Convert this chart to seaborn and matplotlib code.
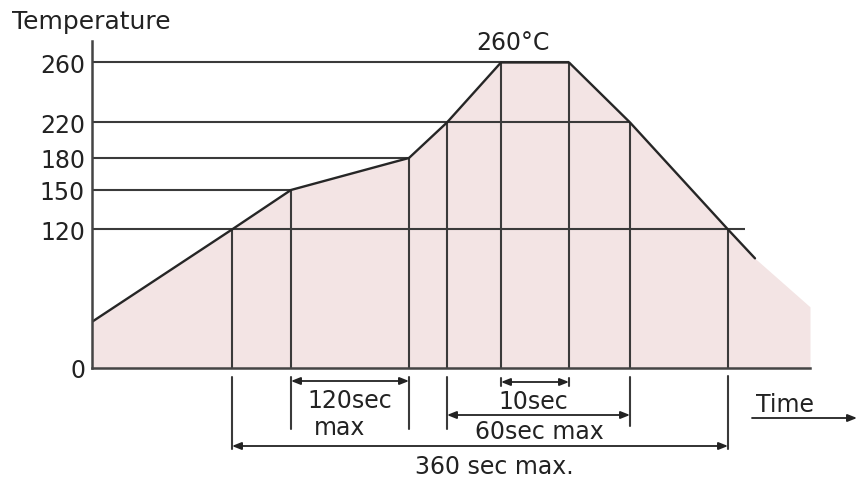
import numpy as np
import pandas as pd
import matplotlib
matplotlib.use("Agg")
import matplotlib.pyplot as plt
import matplotlib.transforms as mtransforms
import seaborn as sns

# ---------------- data (schematic reflow profile) ----------------
times = [0, 140, 199, 317, 355, 409, 477, 538, 636, 663]          # time (schematic units)
temps = [40, 120, 150, 180, 220, 260, 260, 220, 120, 95]           # temperature (°C)
fill_tail_time = [718]
fill_tail_temp = [53]

tick_values = [0, 120, 150, 180, 220, 260]
tick_labels = ["0", "120", "150", "180", "220", "260"]

hline_levels = [260, 220, 180, 150, 120]
hline_ends = [477, 538, 317, 199, 653]

marker_times = [140, 199, 317, 355, 409, 477, 538, 636]
marker_temps = [120, 150, 180, 220, 260, 260, 220, 120]

span_120 = (199, 317)
span_10 = (409, 477)
span_60 = (355, 538)
span_360 = (140, 636)

# schematic (non-linear) temperature axis anchors
axis_temp_anchor = [-100, 0, 120, 150, 180, 220, 260, 400]
axis_pos_anchor = [-115, 0, 138.5, 178, 210, 245.5, 305.5, 515.5]

# ---------------- style ----------------
sns.set_style("white")
plt.rcParams["font.family"] = ["DejaVu Sans"]
TXT = "#222222"
LINE = "#3a3a3a"
FILL = "#f3e4e4"
FS = 17

W, H = 858, 481
fig = plt.figure(figsize=(W / 100, H / 100), dpi=100)
ax = fig.add_axes([92 / W, (H - 369) / H, (810 - 92) / W, (369 - 42) / H])


def fwd(t):
    return np.interp(t, axis_temp_anchor, axis_pos_anchor)


def inv(p):
    return np.interp(p, axis_pos_anchor, axis_temp_anchor)


ax.set_yscale("function", functions=(fwd, inv))

# filled area under profile
fill_t = times + fill_tail_time
fill_v = temps + fill_tail_temp
ax.fill_between(fill_t, 0, fill_v, color=FILL, lw=0, zorder=1)

# reference lines
ax.hlines(hline_levels, 0, hline_ends, colors=LINE, lw=1.5, zorder=2)
ax.vlines(marker_times, 0, marker_temps, colors=LINE, lw=1.5, zorder=2)

# profile line
df = pd.DataFrame({"time": times, "temp": temps})
sns.lineplot(data=df, x="time", y="temp", ax=ax, color="#262626", lw=1.7,
             sort=False, zorder=3)

ax.set_xlim(0, 718)
ax.set_ylim(0, 274.3)
ax.set_xticks([])
ax.set_yticks(tick_values)
ax.set_yticklabels(tick_labels, fontsize=FS, color=TXT)
ax.tick_params(axis="y", length=0, pad=5)
ax.set_xlabel("")
ax.set_ylabel("")
for s in ["top", "right"]:
    ax.spines[s].set_visible(False)
for s in ["left", "bottom"]:
    ax.spines[s].set_color("#444444")
    ax.spines[s].set_linewidth(1.8)
    ax.spines[s].set_zorder(4)

# ---------------- annotations below the axis ----------------
trans = mtransforms.blended_transform_factory(ax.transData, fig.transFigure)


def fy(py):
    return 1 - py / H


ext = [(140, 378, 450), (199, 378, 430), (317, 378, 430), (355, 378, 430),
       (409, 379, 387), (477, 379, 387), (538, 378, 427), (636, 377, 450)]
for x, a, b in ext:
    ax.plot([x, x], [fy(a), fy(b)], transform=trans, color=LINE, lw=1.5,
            clip_on=False)

arrow = dict(arrowstyle="<|-|>,head_length=0.55,head_width=0.22", color=TXT,
             lw=1.3, shrinkA=0, shrinkB=0)
for (x1, x2), py in [(span_120, 382), (span_10, 383), (span_60, 416), (span_360, 447)]:
    ax.annotate("", xy=(x2, fy(py)), xytext=(x1, fy(py)), xycoords=trans,
                textcoords=trans, arrowprops=arrow, annotation_clip=False)

ax.text(258, fy(401), "120sec", transform=trans, ha="center", va="center",
        fontsize=FS, color=TXT)
ax.text(248, fy(428), "max", transform=trans, ha="center", va="center",
        fontsize=FS, color=TXT)
ax.text(441, fy(402), "10sec", transform=trans, ha="center", va="center",
        fontsize=FS, color=TXT)
ax.text(447, fy(432), "60sec max", transform=trans, ha="center", va="center",
        fontsize=FS, color=TXT)
ax.text(402, fy(467), "360 sec max.", transform=trans, ha="center", va="center",
        fontsize=FS, color=TXT)
ax.text(421, fy(43), "260°C", transform=trans, ha="center", va="center",
        fontsize=FS, color=TXT)

# axis titles
fig.text(12 / W, fy(22), "Temperature", ha="left", va="center", fontsize=18,
         color=TXT)
fig.text(785 / W, fy(405), "Time", ha="center", va="center", fontsize=FS,
         color=TXT)
ax.annotate("", xy=(857 / W, fy(419)), xytext=(752 / W, fy(419)),
            xycoords="figure fraction", textcoords="figure fraction",
            arrowprops=dict(arrowstyle="-|>,head_length=0.55,head_width=0.22",
                            color=TXT, lw=1.3, shrinkA=0, shrinkB=0),
            annotation_clip=False)

fig.savefig("out.png", dpi=100)
